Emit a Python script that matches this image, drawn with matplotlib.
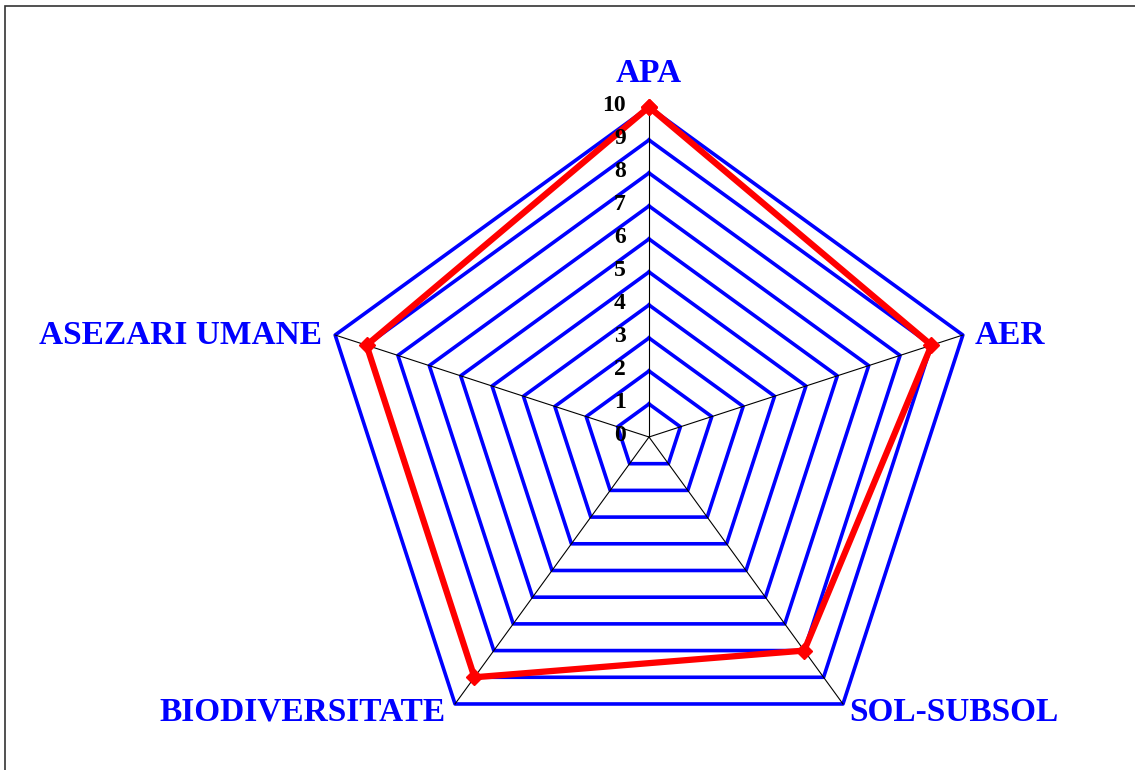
import numpy as np
import matplotlib
matplotlib.use("Agg")
import matplotlib.pyplot as plt
from matplotlib.patches import Rectangle

# date
categorii = ["APA", "AER", "SOL-SUBSOL", "BIODIVERSITATE", "ASEZARI UMANE"]
valori = [10, 9, 8, 9, 9]
niveluri = list(range(0, 11))

W, H = 1135, 770
CX, CY = 649, 437      # centrul in pixeli (de sus)
R = 33.0               # pixeli pe unitate

fig = plt.figure(figsize=(W / 100, H / 100), dpi=100)
ax = fig.add_axes([0, 0, 1, 1])
ax.set_xlim(-CX / R, (W - CX) / R)
ax.set_ylim(-(H - CY) / R, CY / R)
ax.axis("off")

# chenar (iese din imagine la dreapta si jos)
fig.patches.append(Rectangle((5, -20), W + 20, H - 6 + 20, transform=None,
                             fill=False, edgecolor="#333333", linewidth=1.2))

n = len(categorii)
theta = np.arange(n) * 2 * np.pi / n


def xy(r, t):
    return r * np.sin(t), r * np.cos(t)


t_closed = np.append(theta, theta[0])

# grila pentagonala
for lv in niveluri[1:]:
    x, y = xy(lv, t_closed)
    ax.plot(x, y, color="#0000ff", linewidth=2.6, zorder=2)

# spite
for t in theta:
    x, y = xy(np.array([0, niveluri[-1]]), t)
    ax.plot(x, y, color="black", linewidth=0.8, zorder=3)

# seria
v = np.append(valori, valori[0])
x, y = xy(v, t_closed)
ax.plot(x, y, color="#ff0000", linewidth=4.5, marker="D", markersize=8,
        zorder=4, solid_joinstyle="miter")

# etichete axa
for lv in niveluri:
    ax.text(-0.7, lv + 0.05, str(lv), ha="right", va="center",
            fontsize=17, fontweight="bold", family="Liberation Serif",
            color="black", zorder=5)

# etichete categorii
lab_kw = dict(fontsize=24, fontweight="bold", family="Liberation Serif",
              color="#0000ff")
ax.text(0, 11.0, categorii[0], ha="center", va="center", **lab_kw)
x1, y1 = xy(10, theta[1])
ax.text(x1 + 0.35, y1, categorii[1], ha="left", va="center", **lab_kw)
x2, y2 = xy(10, theta[2])
ax.text(x2 + 0.2, y2 - 0.25, categorii[2], ha="left", va="center", **lab_kw)
x3, y3 = xy(10, theta[3])
ax.text(x3 - 0.3, y3 - 0.25, categorii[3], ha="right", va="center", **lab_kw)
x4, y4 = xy(10, theta[4])
ax.text(x4 - 0.4, y4, categorii[4], ha="right", va="center", **lab_kw)

fig.savefig("out.png", dpi=100)
